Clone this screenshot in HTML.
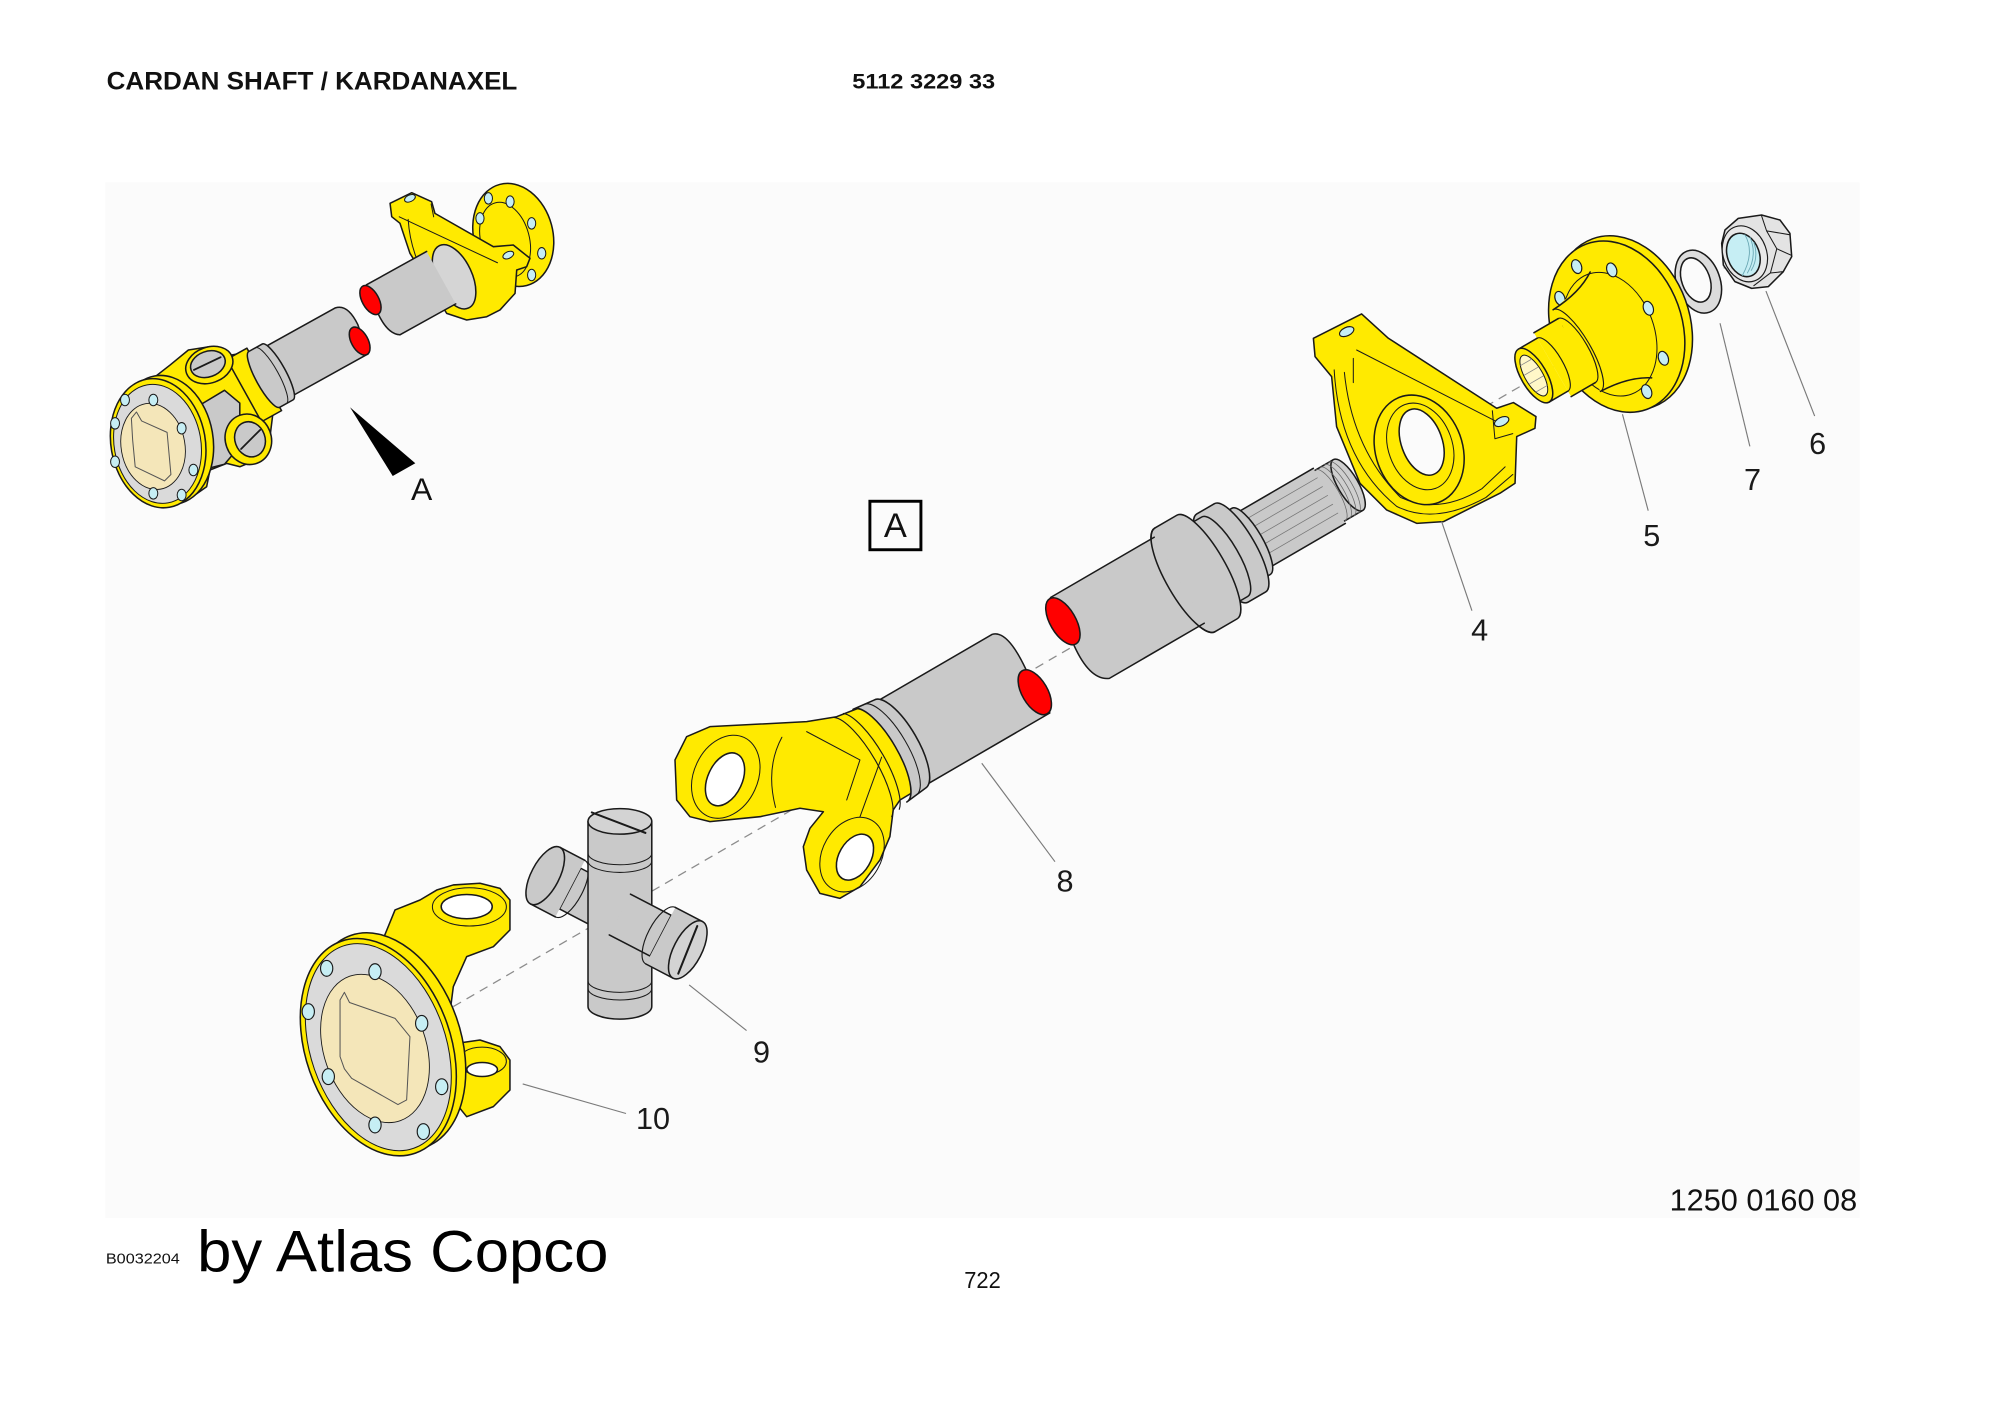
<!DOCTYPE html>
<html><head><meta charset="utf-8"><title>Cardan shaft</title>
<style>html,body{margin:0;padding:0;background:#fff}svg{display:block}</style></head>
<body>
<svg xmlns="http://www.w3.org/2000/svg" width="2000" height="1414" viewBox="0 0 1568 1108.6" preserveAspectRatio="none">
<rect x="0" y="0" width="1568" height="1108.6" fill="#fff"/>
<rect x="82.5" y="143" width="1375.5" height="812" fill="#fbfbfb"/>

<!-- ================= MAIN AXIS dashed ================= -->
<g transform="translate(355.4,789.2) rotate(-30.17)">
  <line x1="0" y1="0" x2="1170" y2="0" stroke="#8c8c8c" stroke-width="1" stroke-dasharray="7 5"/>
</g>

<g stroke="#1a1a1a" stroke-width="1.2" stroke-linejoin="round" stroke-linecap="round">

<!-- ================= NUT 6 ================= -->
<path d="M1352.4,180.3 L1362.8,171.2 L1381.1,168.6 L1395.5,172.5 L1403.3,182.9 L1404.7,201.2 L1398.1,213 L1386.4,224.7 L1373.3,226.1 L1360.2,220.8 L1351.1,207.8 L1349.8,190.8 Z" fill="#e3e3e3"/>
<path d="M1381,169 L1385,181 L1403,184 M1385,181 L1393,195 L1404,200 M1393,195 L1388,214 L1398,213 M1388,214 L1375,224" fill="none" stroke-width=".8"/>
<ellipse cx="1368" cy="199" rx="17" ry="22.5" transform="rotate(-20 1368 199)" fill="#e8e8e8" stroke-width=".9"/>
<ellipse cx="1366.8" cy="199.9" rx="12.5" ry="17.5" transform="rotate(-20 1366.8 199.9)" fill="#c6eef4"/>
<path d="M1372,186 Q1378,200 1370,214 M1375,190 Q1379,202 1373,212 M1368,184 Q1376,198 1366,216" fill="none" stroke="#6aa8b4" stroke-width=".7"/>

<!-- ================= WASHER 7 ================= -->
<ellipse cx="1331.5" cy="220.8" rx="17" ry="25.5" transform="rotate(-20 1331.5 220.8)" fill="#dcdcdc"/>
<ellipse cx="1329.5" cy="219.5" rx="11" ry="18" transform="rotate(-20 1329.5 219.5)" fill="#fbfbfb"/>

<!-- ================= FLANGE 5 ================= -->
<ellipse cx="1272.5" cy="253" rx="52" ry="70" transform="rotate(-20 1272.5 253)" fill="#ffea00"/>
<ellipse cx="1267.5" cy="256.1" rx="51" ry="69" transform="rotate(-20 1267.5 256.1)" fill="#ffea00"/>
<ellipse cx="1262" cy="262" rx="35" ry="50" transform="rotate(-20 1262 262)" fill="none" stroke-width=".8"/>
<g fill="#c6eef4" stroke-width=".9">
  <ellipse cx="1236.1" cy="209" rx="3.8" ry="5.6" transform="rotate(-20 1236.1 209)"/>
  <ellipse cx="1263.6" cy="211.6" rx="3.8" ry="5.6" transform="rotate(-20 1263.6 211.6)"/>
  <ellipse cx="1292.3" cy="241.7" rx="3.8" ry="5.6" transform="rotate(-20 1292.3 241.7)"/>
  <ellipse cx="1304.1" cy="280.9" rx="3.8" ry="5.6" transform="rotate(-20 1304.1 280.9)"/>
  <ellipse cx="1291" cy="307" rx="3.8" ry="5.6" transform="rotate(-20 1291 307)"/>
  <ellipse cx="1223" cy="233.9" rx="3.8" ry="5.6" transform="rotate(-20 1223 233.9)"/>
</g>
<g transform="translate(355.4,789.2) rotate(-30.17)">
  <!-- hub big part (no right edge stroke) -->
  <path d="M1020,-39 L1060,-46 L1060,42 L1020,35 Z" fill="#ffea00" stroke="none"/>
  <path d="M1020,-39 Q1045,-40 1060,-50 M1020,35 Q1045,36 1060,46" fill="none"/>
  <path d="M1020,-39 A11,37 0 0 1 1020,35" fill="none" stroke-width=".9"/>
  <!-- step -->
  <path d="M998,-31 L1020,-31 L1020,27 L998,27 Z" fill="#ffea00" stroke="none"/>
  <path d="M998,-31 L1020,-31 M998,27 L1020,27" fill="none"/>
  <path d="M1020,-31 A9,29 0 0 1 1020,27" fill="none" stroke-width=".9"/>
  <!-- spline end -->
  <path d="M981,-26 L998,-26 L998,22 L981,22 Z" fill="#ffea00" stroke="none"/>
  <path d="M981,-26 L998,-26 M981,22 L998,22" fill="none"/>
  <path d="M998,-26 A8,24 0 0 1 998,22" fill="none" stroke-width=".9"/>
  <ellipse cx="981" cy="-2" rx="10" ry="24" fill="#ffea00"/>
  <ellipse cx="981" cy="-2" rx="7" ry="18" fill="#fff7c8" stroke-width=".8"/>
  <path d="M976,-14 L986,-14 M975,-6 L987,-6 M975,2 L987,2 M976,10 L986,10" stroke="#888" stroke-width=".6"/>
</g>

<!-- ================= BEARING SUPPORT 4 ================= -->
<path d="M1029.7,265.2 L1067.5,246.1 L1088.5,265.2 L1173.4,320.1 L1186.5,315.6 L1204.2,326.6 L1203.4,335.8 L1189.1,342.3 L1187.8,378.9 L1176,386.7 L1149.9,399.8 L1131.6,409 L1110.7,410.3 L1087.1,399.8 L1066.2,378.9 L1047.9,334.5 L1044,295.3 L1031,279.6 Z" fill="#ffea00"/>
<path d="M1063.6,274.4 L1176,331.9 M1061,281 L1061,300 M1046,290 Q1050,360 1095,397 Q1125,412 1165,390 L1186,372 M1054,292 Q1060,352 1098,390 Q1128,404 1162,383 L1180,366" fill="none" stroke-width=".8"/>
<ellipse cx="1112.6" cy="352.7" rx="34" ry="44" transform="rotate(-20 1112.6 352.7)" fill="#ffea00"/>
<ellipse cx="1113.5" cy="350" rx="25" ry="35" transform="rotate(-20 1113.5 350)" fill="none" stroke-width=".8"/>
<ellipse cx="1114.6" cy="346.6" rx="16" ry="27" transform="rotate(-20 1114.6 346.6)" fill="#fbfbfb"/>
<ellipse cx="1055.8" cy="260" rx="6" ry="3.3" transform="rotate(-25 1055.8 260)" fill="#c6eef4" stroke-width=".9"/>
<ellipse cx="1177.3" cy="330.5" rx="6" ry="3.3" transform="rotate(-25 1177.3 330.5)" fill="#c6eef4" stroke-width=".9"/>
<path d="M1170,322 L1172,344 L1186,340" fill="none" stroke-width=".8"/>

<!-- ================= SHAFT STUB + TUBES (axis frame) ================= -->
<g transform="translate(355.4,789.2) rotate(-30.17)">
  <!-- threaded end -->
  <path d="M792,-24 L812,-24 L812,22 L792,22 Z" fill="#c9c9c9" stroke="none"/>
  <path d="M792,-24 L812,-24 M792,22 L812,22" fill="none"/>
  <ellipse cx="812" cy="-1" rx="8" ry="23" fill="#cfcfcf"/>
  <path d="M796,-24 A7,23 0 0 1 796,22 M800,-24 A7,23 0 0 1 800,22 M804,-24 A7,23 0 0 1 804,22 M808,-24 A7,23 0 0 1 808,22" fill="none" stroke="#666" stroke-width=".6"/>
  <!-- splines -->
  <path d="M722,-26 L795,-26 L795,24 L722,24 Z" fill="#c9c9c9" stroke="none"/>
  <path d="M722,-26 L795,-26 M722,24 L795,24" fill="none"/>
  <path d="M724,-18 L794,-18 M724,-10 L794,-10 M724,-2 L794,-2 M724,6 L794,6 M724,14 L794,14" stroke="#777" stroke-width=".6"/>
  <!-- groove -->
  <path d="M712,-31 L724,-31 A9,30 0 0 1 724,29 L712,29 A9,30 0 0 1 712,-31 Z" fill="#c9c9c9"/>
  <!-- ring -->
  <path d="M698,-41 L714,-41 A12,40 0 0 1 714,39 L698,39 A12,40 0 0 1 698,-41 Z" fill="#c9c9c9"/>
  <!-- neck -->
  <path d="M684,-37 L700,-37 A11,36 0 0 1 700,35 L684,35 A11,36 0 0 1 684,-37 Z" fill="#c9c9c9"/>
  <!-- collar -->
  <path d="M664,-48 L684,-48 A14,47 0 0 1 684,46 L664,46 A14,47 0 0 1 664,-48 Z" fill="#c9c9c9"/>
  <!-- upper tube -->
  <path d="M566,-42 L660,-42 L660,36 L574,36 Q560,30 563,0 Z" fill="#c9c9c9" stroke="none"/>
  <path d="M660,-42 L566,-42 M560,-21 M574,36 Q560,30 563,0 M574,36 L660,36" fill="none"/>
  <path d="M664,-48 A14,47 0 0 0 664,46" fill="none"/>
  <ellipse cx="565" cy="-21" rx="10" ry="20.5" fill="#ff0000"/>
  <!-- lower tube -->
  <path d="M404,-40 L512,-40 Q524,-37 521,-3 L520,36 L404,36 Z" fill="#c9c9c9"/>
  <ellipse cx="518" cy="16" rx="10" ry="19.5" fill="#ff0000"/>
</g>

<!-- ================= YOKE 8 ================= -->
<path d="M529.2,595.8 L538.3,577.6 L556.6,569.7 L632.4,565.8 L655.9,561.9 L672.9,555.3 L684.7,552 L695.1,552.7 L705.6,561.9 L716,574.9 L722.6,590.6 L723.9,611.5 L718.6,619.4 L705.6,627.2 L700.3,635 L697.7,655.9 L689.9,674.2 L674.2,695.2 L658.5,704.3 L642.8,700.4 L632.4,682.1 L629.8,663.8 L635,649.4 L645.5,636.4 L627.2,633.7 L595.8,640.3 L556.6,644.2 L540.9,640.3 L530.5,627.2 Z" fill="#ffea00"/>
<ellipse cx="569" cy="609" rx="25" ry="34" transform="rotate(25 569 609)" fill="none" stroke-width=".8"/>
<ellipse cx="568.4" cy="611" rx="13.5" ry="22" transform="rotate(25 568.4 611)" fill="#fff"/>
<ellipse cx="668" cy="670" rx="23" ry="31" transform="rotate(30 668 670)" fill="none" stroke-width=".8"/>
<ellipse cx="670.3" cy="672" rx="12.5" ry="19.5" transform="rotate(30 670.3 672)" fill="#fff"/>
<path d="M632.4,573.6 L674.2,595.8 L663.8,627.2 M613,578 Q600,602 608,633 M691.2,593.6 L674.2,640.5" fill="none" stroke-width=".8"/>
<g transform="translate(355.4,789.2) rotate(-30.17)">
  <path d="M388,-44 A14,42 0 0 1 388,40 L406,38 A14,40 0 0 0 406,-42 Z" fill="#c9c9c9"/>
  <path d="M397,-43 A14,41 0 0 1 397,39" fill="none" stroke-width=".8"/>
  <path d="M372,-46 A14,46 0 0 1 372,44 M380,-45 A14,45 0 0 1 380,42" fill="none" stroke-width=".9"/>
</g>

<!-- ================= CROSS 9 ================= -->
<g transform="translate(486,717)" fill="#c9c9c9">
  <g transform="rotate(27.5)">
    <path d="M-44,-18 L0,-18 L0,18 L-44,18 Z"/>
    <path d="M-66,-25 L-44,-25 L-44,25 L-66,25 Z" stroke="none"/>
    <line x1="-66" y1="-25" x2="-44" y2="-25"/><line x1="-66" y1="25" x2="-44" y2="25"/>
    <ellipse cx="-66" cy="0" rx="11" ry="25"/>
    <path d="M-44,-25 A10,25 0 0 1 -44,25" fill="none" stroke-width=".9"/>
  </g>
  <path d="M-25,-73 L25,-73 L25,72 A25,10 0 0 1 -25,72 Z"/>
  <ellipse cx="0" cy="-73" rx="25" ry="10" fill="#d3d3d3"/>
  <path d="M-22,-80 L20,-64" stroke-width="1.6"/>
  <path d="M-25,-48 A25,9 0 0 0 25,-48 M-25,-42 A25,9 0 0 0 25,-42 M-25,52 A25,9 0 0 0 25,52 M-25,58 A25,9 0 0 0 25,58" fill="none" stroke-width=".8"/>
  <g transform="rotate(27.5)">
    <path d="M0,-18 L36,-18 L36,18 L0,18" />
    <path d="M36,-25 L60,-25 L60,25 L36,25 Z" stroke="none"/>
    <line x1="36" y1="-25" x2="60" y2="-25"/><line x1="36" y1="25" x2="60" y2="25"/>
    <path d="M36,-25 A10,25 0 0 0 36,25" fill="none" stroke-width=".9"/>
    <ellipse cx="60" cy="0" rx="11" ry="25" fill="#d3d3d3"/>
    <path d="M58,-20 L62,20" stroke-width="1.6"/>
  </g>
</g>

<!-- ================= FLANGE YOKE 10 ================= -->
<path d="M298,742 L309.7,713.4 L329.3,705.6 L342.4,697.8 L355.4,693.8 L376.3,692.5 L392,696.5 L399.8,705.6 L399.8,729.1 L386.8,742.2 L365.9,750 L355.4,773.6 L352,800 L330,805 Z" fill="#ffea00"/>
<ellipse cx="368" cy="711" rx="29" ry="15" fill="none" stroke-width=".8"/>
<ellipse cx="365.9" cy="710.8" rx="20" ry="9.5" fill="#fff"/>
<path d="M358,818 L376.3,815.4 L392,820.6 L399.8,831.1 L399.8,854.6 L386.8,867.6 L365.9,875.5 L355,862 Z" fill="#ffea00"/>
<ellipse cx="378" cy="832" rx="19" ry="11" fill="none" stroke-width=".8"/>
<ellipse cx="378" cy="838.5" rx="12" ry="5.5" fill="#fff"/>
<ellipse cx="304" cy="816.5" rx="57" ry="88" transform="rotate(-19.3 304 816.5)" fill="#ffea00"/>
<ellipse cx="296.6" cy="821" rx="57" ry="88" transform="rotate(-19.3 296.6 821)" fill="#ffea00"/>
<ellipse cx="296.6" cy="821" rx="53" ry="84" transform="rotate(-19.3 296.6 821)" fill="#dadada" stroke-width=".8"/>
<ellipse cx="294" cy="822" rx="40" ry="60" transform="rotate(-19.3 294 822)" fill="#f4e6b9" stroke-width=".7"/>
<path d="M266.6,784 L270,778 L274,786 L309.7,798.4 L321.4,812.8 L318.8,862.4 L312,866 L275.7,845.4 L270,838 L266.6,828.4 Z" fill="none" stroke="#555" stroke-width=".8"/>
<g fill="#c6eef4" stroke-width=".9">
  <ellipse cx="256.1" cy="759.2" rx="4.8" ry="6.2"/>
  <ellipse cx="294" cy="761.8" rx="4.8" ry="6.2"/>
  <ellipse cx="241.7" cy="793.1" rx="4.8" ry="6.2"/>
  <ellipse cx="330.6" cy="802.3" rx="4.8" ry="6.2"/>
  <ellipse cx="257.4" cy="844.1" rx="4.8" ry="6.2"/>
  <ellipse cx="346.3" cy="852" rx="4.8" ry="6.2"/>
  <ellipse cx="294" cy="882" rx="4.8" ry="6.2"/>
  <ellipse cx="331.9" cy="887.2" rx="4.8" ry="6.2"/>
</g>

<!-- ================= TOP-LEFT ASSEMBLY ================= -->
<ellipse cx="402.4" cy="184.2" rx="31" ry="41" transform="rotate(-15 402.4 184.2)" fill="#ffea00"/>
<ellipse cx="396" cy="188" rx="19" ry="30" transform="rotate(-15 396 188)" fill="none" stroke-width=".8"/>
<g fill="#c6eef4" stroke-width=".8">
  <ellipse cx="382.9" cy="155.5" rx="3.2" ry="4.5"/>
  <ellipse cx="399.9" cy="158.1" rx="3.2" ry="4.5"/>
  <ellipse cx="416.8" cy="175.1" rx="3.2" ry="4.5"/>
  <ellipse cx="424.7" cy="198.6" rx="3.2" ry="4.5"/>
  <ellipse cx="416.8" cy="215.6" rx="3.2" ry="4.5"/>
  <ellipse cx="376.3" cy="171.2" rx="3.2" ry="4.5"/>
</g>
<path d="M305.8,159.4 L322.8,151.1 L338.4,158.1 L341,167.3 L386.8,193.4 L402.4,192.1 L415.5,202.5 L412.9,209.1 L405.1,211.7 L403.8,230 L392,243 L381.6,248.3 L365.9,250.9 L350.2,245.7 L334.5,219.5 L321.4,198.6 L313.6,175.1 L307.1,169.9 Z" fill="#ffea00"/>
<path d="M313,170 L390,206 M338,160 L340,170 M320,172 Q322,205 345,236" fill="none" stroke-width=".8"/>
<ellipse cx="321.4" cy="155.5" rx="4.5" ry="2.6" transform="rotate(-25 321.4 155.5)" fill="#c6eef4" stroke-width=".8"/>
<ellipse cx="398.5" cy="200" rx="4.5" ry="2.6" transform="rotate(-25 398.5 200)" fill="#c6eef4" stroke-width=".8"/>
<ellipse cx="356" cy="217" rx="14" ry="27" transform="rotate(-25 356 217)" fill="#d5d5d5"/>
<g transform="translate(215.9,292.6) rotate(-29)">
  <path d="M96,-26 L150,-26 L150,21 L100,21 Q92,16 93,-1 Z" fill="#c9c9c9" stroke="none"/>
  <path d="M150,-26 L96,-26 M100,21 Q92,16 93,-1 M100,21 L150,21" fill="none"/>
  <ellipse cx="93" cy="-14" rx="6.5" ry="12.5" fill="#ff0000"/>
</g>

<!-- U-joint body -->
<path d="M115,300.5 L133.3,286.2 L147.7,274.4 L164.6,271.8 L181.6,278.3 L196,275.7 L206.5,274.4 L219.5,284.9 L223.4,300.5 L219.5,313.6 L214.3,321.4 L211.7,342.3 L201.2,360.6 L188.2,365.9 L177.7,363.3 L164.6,368.5 L162,381.6 L150,390 L130,380 Z" fill="#ffea00"/>
<g transform="translate(215.9,292.6) rotate(-29)">
  <path d="M0,-22 L66,-22 Q76,-20 75,-2 L71,22 L0,22 Z" fill="#c9c9c9"/>
  <ellipse cx="70" cy="10" rx="6.5" ry="12" fill="#ff0000"/>
  <path d="M-28,-28 L-10,-28 L-10,28 L-28,28 Z" fill="#ffea00"/>
  <path d="M-10,-25 L2,-25 A6,25 0 0 1 2,25 L-10,25 A6,25 0 0 1 -10,-25 Z" fill="#c9c9c9"/>
  <path d="M-4,-25 A6,25 0 0 1 -4,25" fill="none" stroke-width=".8"/>
</g>
<path d="M156,318 L176,306 L188,316 L188,350 L176,364 L160,368 L155,350 Z" fill="#c9c9c9"/>
<ellipse cx="164.1" cy="286.2" rx="19" ry="14" transform="rotate(-20 164.1 286.2)" fill="#ffea00"/>
<ellipse cx="163" cy="285.5" rx="14" ry="10" transform="rotate(-20 163 285.5)" fill="#c9c9c9"/>
<path d="M152,290 L173,280" stroke-width="1.4"/>
<ellipse cx="194.7" cy="344.4" rx="18" ry="20" transform="rotate(-20 194.7 344.4)" fill="#ffea00"/>
<ellipse cx="196" cy="344.4" rx="11.8" ry="14" transform="rotate(-20 196 344.4)" fill="#c9c9c9"/>
<path d="M189,352 L204,337" stroke-width="1.4"/>
<!-- left flange -->
<ellipse cx="130" cy="345" rx="37" ry="51" transform="rotate(-10 130 345)" fill="#ffea00"/>
<ellipse cx="124" cy="347.5" rx="37" ry="51" transform="rotate(-10 124 347.5)" fill="#ffea00"/>
<ellipse cx="123.5" cy="348" rx="34" ry="47" transform="rotate(-10 123.5 348)" fill="#dadada" stroke-width=".8"/>
<ellipse cx="120" cy="350" rx="25" ry="34" transform="rotate(-10 120 350)" fill="#f4e6b9" stroke-width=".7"/>
<path d="M103,328 L107,323 L111,330 L131,339 L134,372 L129,377 L106,366 L104,345 Z" fill="none" stroke="#555" stroke-width=".8"/>
<g fill="#c6eef4" stroke-width=".8">
  <ellipse cx="98" cy="313.6" rx="3.5" ry="4.5"/>
  <ellipse cx="120.2" cy="313.6" rx="3.5" ry="4.5"/>
  <ellipse cx="90.2" cy="331.9" rx="3.5" ry="4.5"/>
  <ellipse cx="142.4" cy="335.8" rx="3.5" ry="4.5"/>
  <ellipse cx="90.2" cy="362" rx="3.5" ry="4.5"/>
  <ellipse cx="151.6" cy="368.5" rx="3.5" ry="4.5"/>
  <ellipse cx="120.2" cy="386.8" rx="3.5" ry="4.5"/>
  <ellipse cx="142.4" cy="388.1" rx="3.5" ry="4.5"/>
</g>
</g>

<!-- view arrow -->
<polygon points="274.4,319.3 307.9,373.2 325.6,363.2" fill="#000"/>

<!-- ================= LEADER LINES ================= -->
<g stroke="#7a7a7a" stroke-width=".9">
  <line x1="1384.5" y1="228.2" x2="1422.7" y2="326.2"/>
  <line x1="1348.5" y1="253.4" x2="1371.9" y2="350"/>
  <line x1="1272" y1="324.8" x2="1292.2" y2="400.4"/>
  <line x1="1130.2" y1="408.8" x2="1154" y2="478.8"/>
  <line x1="769.7" y1="598.4" x2="827.1" y2="675.6"/>
  <line x1="540.3" y1="772.2" x2="585.3" y2="808"/>
  <line x1="409.8" y1="849.8" x2="490.8" y2="873"/>
</g>

<!-- A box -->
<rect x="682" y="393" width="40" height="38" fill="none" stroke="#000" stroke-width="2.3"/>

<!-- ================= TEXT ================= -->
<g font-family="'Liberation Sans', Arial, sans-serif" fill="#111">
  <text x="83.6" y="70" font-size="19.5" font-weight="bold" textLength="322" lengthAdjust="spacingAndGlyphs">CARDAN SHAFT / KARDANAXEL</text>
  <text x="668.2" y="69.5" font-size="17" font-weight="bold" textLength="112" lengthAdjust="spacingAndGlyphs">5112 3229 33</text>
  <text x="702" y="421" font-size="27" text-anchor="middle">A</text>
  <text x="330.6" y="392" font-size="25" text-anchor="middle">A</text>
  <g font-size="24" text-anchor="middle" fill="#1a1a1a">
    <text x="1425" y="356">6</text>
    <text x="1374" y="384">7</text>
    <text x="1295" y="428">5</text>
    <text x="1160" y="502">4</text>
    <text x="835" y="699">8</text>
    <text x="597" y="833">9</text>
    <text x="512" y="885">10</text>
  </g>
  <text x="1309" y="949" font-size="24" textLength="147" lengthAdjust="spacingAndGlyphs">1250 0160 08</text>
  <text x="83" y="990.5" font-size="11.5" textLength="58" lengthAdjust="spacingAndGlyphs">B0032204</text>
  <text x="154.5" y="997" font-size="46" fill="#000" textLength="322.5" lengthAdjust="spacingAndGlyphs">by Atlas Copco</text>
  <text x="756" y="1010" font-size="18" textLength="28.6" lengthAdjust="spacingAndGlyphs">722</text>
</g>
</svg>
</body></html>
